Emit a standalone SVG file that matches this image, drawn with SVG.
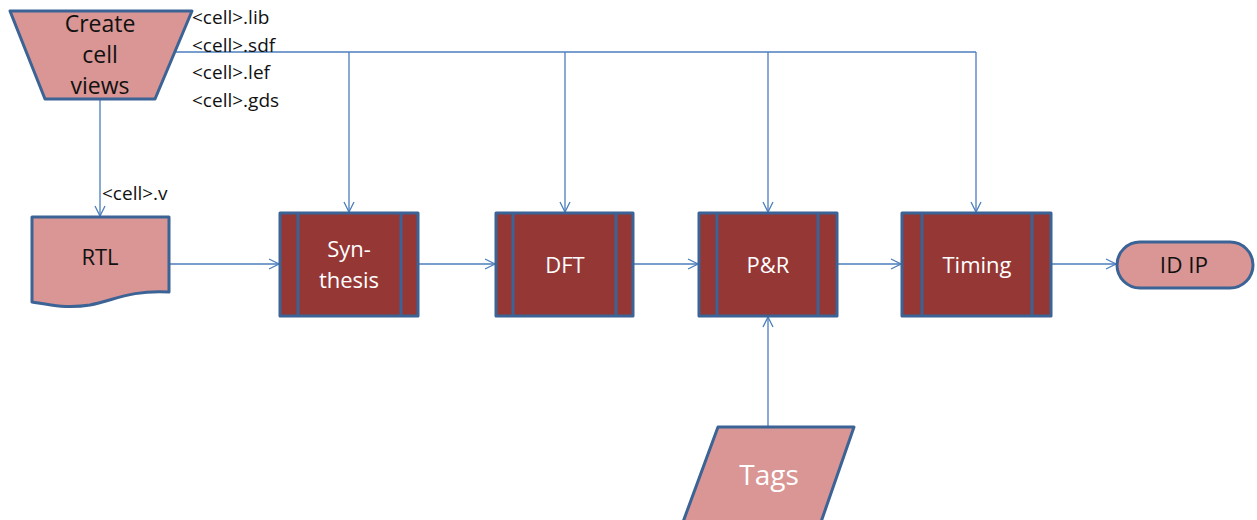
<svg xmlns="http://www.w3.org/2000/svg" width="1257" height="520" viewBox="0 0 1257 520">
  <defs>
    <marker id="arrow" viewBox="0 0 12 12" refX="11" refY="6" markerWidth="12" markerHeight="12" markerUnits="userSpaceOnUse" orient="auto">
      <polyline points="1,1 11,6 1,11" fill="none" stroke="#4A7EBB" stroke-width="1.3"/>
    </marker>
  </defs>
  <style>
    .light { fill: #D99694; stroke: #3B6396; stroke-width: 3; stroke-linejoin: round; }
    .proc { fill: #953735; stroke: #3B6396; stroke-width: 3; stroke-linejoin: round; }
    .bar { stroke: #3B6396; stroke-width: 3; }
    .conn { fill: none; stroke: #4A7EBB; stroke-width: 1.3; }
    .t { font-family: "Open Sans", "Liberation Sans", sans-serif; text-anchor: middle; }
    .dark { fill: #111111; }
    .white { fill: #FFFFFF; }
    .file { font-family: "Open Sans", "Liberation Sans", sans-serif; font-size: 19px; fill: #111111; }
  </style>

  <!-- connectors -->
  <g id="connectors">
    <polyline class="conn" points="175,52 976,52"/>
    <line class="conn" x1="349" y1="52" x2="349" y2="212" marker-end="url(#arrow)"/>
    <line class="conn" x1="565" y1="52" x2="565" y2="212" marker-end="url(#arrow)"/>
    <line class="conn" x1="768" y1="52" x2="768" y2="212" marker-end="url(#arrow)"/>
    <line class="conn" x1="976" y1="52" x2="976" y2="212" marker-end="url(#arrow)"/>
    <line class="conn" x1="100" y1="100" x2="100" y2="216" marker-end="url(#arrow)"/>
    <line class="conn" x1="170" y1="264" x2="279" y2="264" marker-end="url(#arrow)"/>
    <line class="conn" x1="418" y1="264" x2="495" y2="264" marker-end="url(#arrow)"/>
    <line class="conn" x1="633" y1="264" x2="698" y2="264" marker-end="url(#arrow)"/>
    <line class="conn" x1="837" y1="264" x2="901" y2="264" marker-end="url(#arrow)"/>
    <line class="conn" x1="1051" y1="264" x2="1116" y2="264" marker-end="url(#arrow)"/>
    <line class="conn" x1="768" y1="427" x2="768" y2="317" marker-end="url(#arrow)"/>
  </g>

  <!-- file labels -->
  <g id="cell-files">
    <text class="file" x="192" y="24">&lt;cell&gt;.lib</text>
    <text class="file" x="192" y="52">&lt;cell&gt;.sdf</text>
    <text class="file" x="192" y="79">&lt;cell&gt;.lef</text>
    <text class="file" x="192" y="107">&lt;cell&gt;.gds</text>
    <text class="file" x="102" y="200">&lt;cell&gt;.v</text>
  </g>

  <g id="create-cell-views">
    <polygon class="light" points="10,11 192,11 155,99 45,99"/>
    <text class="t dark" font-size="23" x="100" y="32">Create</text>
    <text class="t dark" font-size="23" x="100" y="63">cell</text>
    <text class="t dark" font-size="23" x="100" y="94">views</text>
  </g>

  <g id="rtl">
    <path class="light" d="M32,217 H169 V292 C130,290 115,300 90,305 C65,309 45,304 32,302 Z"/>
    <text class="t dark" font-size="22" x="100" y="265">RTL</text>
  </g>

  <g id="synthesis">
    <rect class="proc" x="280" y="213" width="138" height="103"/>
    <line class="bar" x1="298" y1="213" x2="298" y2="316"/>
    <line class="bar" x1="401" y1="213" x2="401" y2="316"/>
    <text class="t white" font-size="22" x="349" y="257">Syn-</text>
    <text class="t white" font-size="22" x="349" y="288">thesis</text>
  </g>

  <g id="dft">
    <rect class="proc" x="496" y="213" width="137" height="103"/>
    <line class="bar" x1="513" y1="213" x2="513" y2="316"/>
    <line class="bar" x1="616" y1="213" x2="616" y2="316"/>
    <text class="t white" font-size="22" x="565" y="273">DFT</text>
  </g>

  <g id="pnr">
    <rect class="proc" x="699" y="213" width="138" height="103"/>
    <line class="bar" x1="717" y1="213" x2="717" y2="316"/>
    <line class="bar" x1="818" y1="213" x2="818" y2="316"/>
    <text class="t white" font-size="22" x="768" y="273">P&amp;R</text>
  </g>

  <g id="timing">
    <rect class="proc" x="902" y="213" width="149" height="103"/>
    <line class="bar" x1="922" y1="213" x2="922" y2="316"/>
    <line class="bar" x1="1032" y1="213" x2="1032" y2="316"/>
    <text class="t white" font-size="22" x="977" y="273">Timing</text>
  </g>

  <g id="id-ip">
    <rect class="light" x="1117" y="242" width="136" height="46" rx="23" ry="23"/>
    <text class="t dark" font-size="22.5" x="1184" y="273">ID IP</text>
  </g>

  <g id="tags">
    <polygon class="light" points="718,427 854,427 821,522 683,522"/>
    <text class="t white" font-size="28" x="769" y="485">Tags</text>
  </g>
</svg>
